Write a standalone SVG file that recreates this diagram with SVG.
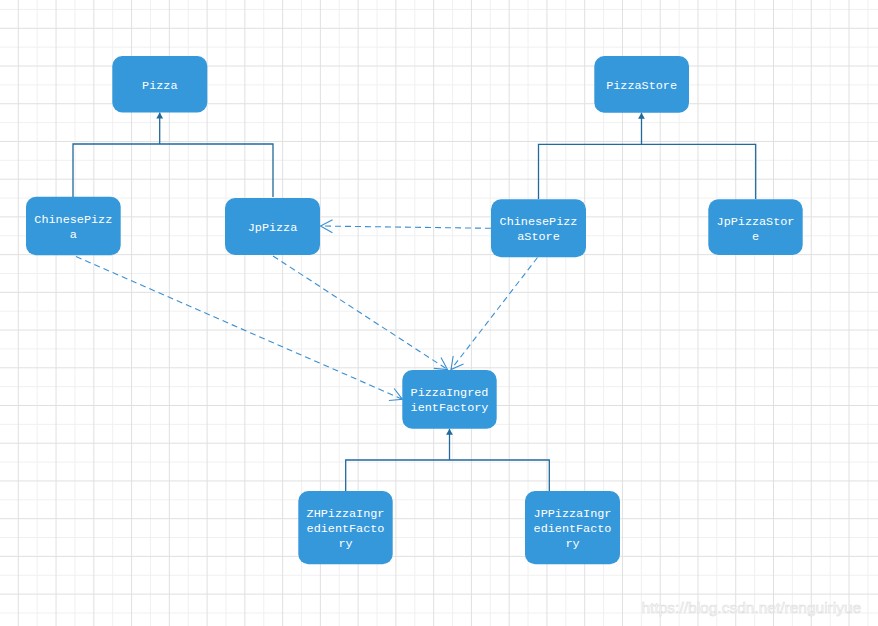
<svg xmlns="http://www.w3.org/2000/svg" width="878" height="626" viewBox="0 0 878 626">
<style>
.node rect{fill:#3598db;}
.node text{fill:#ffffff;font-family:"Liberation Mono","DejaVu Sans Mono",monospace;font-size:11.8px;text-anchor:middle;}
.inh{fill:none;stroke:#22699c;stroke-width:1.3;}
.dep{fill:none;stroke:#3a8fd2;stroke-width:1.1;stroke-dasharray:6 4;}
.wm{font-family:"Liberation Sans",Arial,sans-serif;font-size:15.5px;fill:#fafafa;stroke:#dadada;stroke-width:0.5;}
</style>
<defs>
<pattern id="grid" patternUnits="userSpaceOnUse" x="8.86" y="18.87" width="37.76" height="37.72">
<path d="M28.32 0V37.72M0 28.29H37.76" stroke="#f0f0f0" stroke-width="1" fill="none"/>
<path d="M9.44 0V37.72M0 9.43H37.76" stroke="#e0e0e0" stroke-width="1" fill="none"/>
</pattern>
<marker id="tri" viewBox="-7 -4 8 8" refX="0" refY="0" markerWidth="8" markerHeight="8" markerUnits="userSpaceOnUse" orient="auto">
<path d="M-6 -3.4L0 0L-6 3.4Z" fill="#22699c"/>
</marker>
<marker id="open" viewBox="-14 -8 16 16" refX="0" refY="0" markerWidth="16" markerHeight="16" markerUnits="userSpaceOnUse" orient="auto">
<path d="M-12 -6.5L0 0L-12 6.5" fill="none" stroke="#3a8fd2" stroke-width="1.1"/>
</marker>
</defs>
<rect width="878" height="626" fill="#ffffff"/>
<rect width="878" height="626" fill="url(#grid)"/>
<g id="connectors">
<path class="inh" d="M73 197V144H273V197M159.7 144V112.5" marker-end="url(#tri)"/>
<path class="inh" d="M538.5 199V144.3H755.7V199M641.5 144.3V112.8" marker-end="url(#tri)"/>
<path class="inh" d="M345.7 491V460H549.3V491M449.5 460V428.8" marker-end="url(#tri)"/>
<path class="dep" d="M491 228.3L320.5 226" marker-end="url(#open)"/>
<path class="dep" d="M76 256.5L402.5 399.3" marker-end="url(#open)"/>
<path class="dep" d="M273 256L447.5 369.5" marker-end="url(#open)"/>
<path class="dep" d="M537.5 257.5L451 369.5" marker-end="url(#open)"/>
</g>
<g id="pizza" class="node"><rect x="112.3" y="56" width="95" height="56.5" rx="10"/><text x="159.8" y="89">Pizza</text></g>
<g id="pizzastore" class="node"><rect x="594.3" y="56" width="94.7" height="56.7" rx="10"/><text x="641.6" y="89">PizzaStore</text></g>
<g id="chinesepizza" class="node"><rect x="26" y="196.7" width="94.7" height="58.6" rx="10"/><text x="73.3" y="222.5">ChinesePizz</text><text x="73.3" y="238">a</text></g>
<g id="jppizza" class="node"><rect x="225" y="198" width="95" height="57" rx="10"/><text x="272.5" y="230.7">JpPizza</text></g>
<g id="chinesepizzastore" class="node"><rect x="491" y="199.3" width="95" height="58" rx="10"/><text x="538.5" y="225">ChinesePizz</text><text x="538.5" y="240">aStore</text></g>
<g id="jppizzastore" class="node"><rect x="708.3" y="199.3" width="94.4" height="55.7" rx="10"/><text x="755.5" y="225">JpPizzaStor</text><text x="755.5" y="239.5">e</text></g>
<g id="pizzaingredientfactory" class="node"><rect x="402.3" y="370" width="94.4" height="58.7" rx="10"/><text x="449.5" y="396.3">PizzaIngred</text><text x="449.5" y="411">ientFactory</text></g>
<g id="zhpizzaingredientfactory" class="node"><rect x="298.3" y="491" width="94.4" height="73.3" rx="10"/><text x="345.5" y="517.3">ZHPizzaIngr</text><text x="345.5" y="532.3">edientFacto</text><text x="345.5" y="547.3">ry</text></g>
<g id="jppizzaingredientfactory" class="node"><rect x="525" y="491" width="95" height="73.3" rx="10"/><text x="572.5" y="517.3">JPPizzaIngr</text><text x="572.5" y="532.3">edientFacto</text><text x="572.5" y="547.3">ry</text></g>
<text class="wm" x="641.5" y="612.5">https://blog.csdn.net/renguiriyue</text>
</svg>
